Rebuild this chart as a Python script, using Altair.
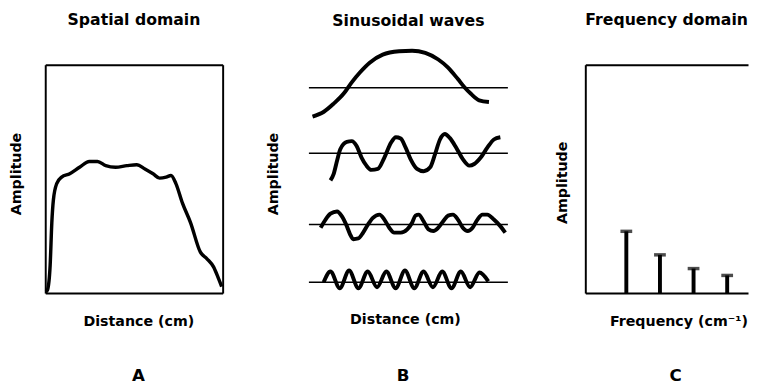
import altair as alt
import pandas as pd

FONT = "DejaVu Sans"

# ---------------- Panel A: spatial domain signal ----------------
a_dist = [0.5, 2.3, 5.0, 6.7, 8.3, 11.7, 16.7, 25.0, 35.0, 45.0, 53.3, 61.7, 71.7, 83.3,
          93.3, 101.7, 110.0, 116.7, 123.3, 128.3, 133.3, 140.0, 148.3, 158.3, 165.0,
          171.7, 176.7, 180.0]
a_amp = [1.0, 3.3, 28.3, 71.7, 95.0, 111.7, 118.3, 121.7, 128.3, 134.3, 134.3, 130.0,
         128.3, 130.0, 131.0, 126.7, 121.7, 117.3, 118.3, 120.0, 111.7, 91.7, 71.7,
         41.7, 35.0, 26.7, 15.0, 6.7]

# ---------------- Panel B: sinusoidal components ----------------
b_levels = [209.5, 142.7, 70.0, 11.0]
b_start = [0.0, 0.0, 0.0, 0.0]
b_end = [203.0, 203.0, 203.0, 203.0]

w1_x = [3.7, 15.3, 25.3, 35.3, 43.7, 52.0, 62.0, 75.3, 92.0, 105.3, 118.7, 132.0, 142.0,
        152.0, 158.7, 165.3, 173.7, 183.7]
w1_y = [180.0, 185.0, 193.3, 203.3, 215.0, 225.0, 235.0, 243.3, 246.7, 247.3, 245.0,
        238.3, 230.0, 218.3, 210.0, 203.3, 196.7, 195.0]

w2_x = [22.0, 25.3, 28.7, 32.0, 38.7, 43.7, 48.7, 53.7, 58.7, 63.7, 70.3, 77.0, 83.7,
        88.7, 93.7, 98.7, 103.7, 110.3, 117.0, 123.7, 128.7, 133.7, 138.7, 143.7, 150.3,
        157.0, 163.7, 168.7, 175.3, 182.0, 188.7, 195.3]
w2_y = [115.0, 121.7, 135.0, 146.7, 154.3, 155.0, 150.0, 138.3, 130.0, 125.7, 126.7,
        138.3, 153.3, 159.0, 157.7, 148.3, 136.7, 126.7, 124.3, 128.3, 141.7, 156.7,
        162.3, 158.3, 148.3, 136.7, 130.0, 131.7, 138.3, 148.3, 156.7, 159.0]

w3_x = [12.0, 17.0, 22.0, 28.7, 33.7, 38.7, 42.0, 45.3, 50.3, 55.3, 60.3, 65.3, 72.0,
        77.0, 82.0, 87.0, 93.7, 100.3, 105.3, 108.7, 112.0, 117.0, 122.0, 127.0, 132.0,
        137.0, 142.0, 147.0, 152.0, 157.0, 162.0, 167.0, 172.0, 177.0, 182.0, 188.7,
        195.3, 200.3]
w3_y = [66.7, 75.0, 81.0, 83.3, 78.3, 68.3, 60.0, 55.0, 55.7, 61.7, 70.0, 76.7, 80.0,
        75.0, 66.7, 61.7, 61.7, 65.0, 71.7, 79.0, 80.0, 73.3, 65.0, 63.3, 66.7, 73.3,
        79.0, 80.0, 75.0, 66.7, 63.3, 66.7, 75.0, 80.0, 80.0, 75.0, 68.3, 61.7]

w4_x = [15.0, 22.0, 31.5, 41.0, 50.5, 60.0, 69.5, 79.0, 88.5, 98.0, 107.5, 117.0, 126.5,
        136.0, 145.5, 155.0, 164.5, 174.0, 183.0]
w4_y = [11.0, 22.0, 5.0, 23.0, 5.0, 22.0, 6.0, 22.0, 5.0, 23.0, 5.0, 22.0, 6.0, 22.0,
        5.0, 22.0, 6.0, 21.0, 12.0]

# ---------------- Panel C: frequency domain ----------------
c_freq = [1, 2, 3, 4]
c_amp = [63.0, 39.0, 25.0, 18.0]

H = 233


def ttl(text, offset=37):
    return alt.TitleParams(text=text, font=FONT, fontSize=16, fontWeight="bold",
                           color="black", offset=offset, anchor="middle")


def axis(title, pad, domain=False, grid_values=None, **extra):
    kw = dict(title=title, titlePadding=pad, labels=False, ticks=False,
              titleFont=FONT, titleFontSize=14.5, titleFontWeight="bold",
              titleColor="black", domain=domain, domainColor="black",
              domainWidth=2)
    if grid_values is not None:
        kw.update(grid=True, values=grid_values, gridColor="black", gridWidth=2,
                  gridOpacity=1)
    else:
        kw.update(grid=False, values=[])
    kw.update(extra)
    return alt.Axis(**kw)


def letter(ch, xpos):
    return alt.Chart(pd.DataFrame({"lab": [ch]})).mark_text(
        font=FONT, fontSize=17, fontWeight="bold", color="black"
    ).encode(text="lab:N", x=alt.value(xpos), y=alt.value(318))


# Panel A
df_a = pd.DataFrame({"dist": a_dist, "amp": a_amp})
line_a = alt.Chart(df_a).mark_line(color="black", strokeWidth=3.5,
                                   interpolate="monotone").encode(
    x=alt.X("dist:Q", scale=alt.Scale(domain=[0, 181], nice=False, zero=False),
            axis=axis("Distance (cm)", 22, domain=True, grid_values=[181], titleX=95)),
    y=alt.Y("amp:Q", scale=alt.Scale(domain=[0, H], nice=False),
            axis=axis("Amplitude", 22, domain=True, grid_values=[H], titleY=111)),
)
chart_a = alt.layer(line_a, letter("A", 95)).properties(
    width=181, height=H, title=ttl("Spatial domain"))

# Panel B
rows = []
for k, (xs, ys) in enumerate([(w1_x, w1_y), (w2_x, w2_y), (w3_x, w3_y), (w4_x, w4_y)]):
    for xv, yv in zip(xs, ys):
        rows.append({"wave": k, "dist": xv, "amp": yv})
df_b = pd.DataFrame(rows)
df_base = pd.DataFrame({"level": b_levels, "x0": b_start, "x1": b_end})

xb = alt.Scale(domain=[0, 203], nice=False, zero=False)
yb = alt.Scale(domain=[0, H], nice=False)
base_b = alt.Chart(df_base).mark_rule(color="black", strokeWidth=1.6).encode(
    x=alt.X("x0:Q", scale=xb, axis=axis("Distance (cm)", 20, titleX=98)),
    x2="x1:Q",
    y=alt.Y("level:Q", scale=yb, axis=axis("Amplitude", 29, titleY=111)),
)
waves_b = alt.Chart(df_b).mark_line(color="black", strokeWidth=4,
                                    interpolate="monotone").encode(
    x=alt.X("dist:Q", scale=xb),
    y=alt.Y("amp:Q", scale=yb),
    detail="wave:N",
)
chart_b = alt.layer(base_b, waves_b, letter("B", 96)).properties(
    width=203, height=H, title=ttl("Sinusoidal waves", offset=14))

# Panel C
df_c = pd.DataFrame({"freq": c_freq, "amp": c_amp})
xc = alt.Scale(domain=[-0.22, 4.62], nice=False, zero=False)
yc = alt.Scale(domain=[0, H], nice=False)
stems = alt.Chart(df_c).mark_rule(color="black", strokeWidth=4).encode(
    x=alt.X("freq:Q", scale=xc,
            axis=axis("Frequency (cm\u207b\u00b9)", 22, domain=True, titleX=95)),
    y=alt.Y("amp:Q", scale=yc,
            axis=axis("Amplitude", 16, domain=True, grid_values=[H], titleY=120)),
    y2=alt.datum(0),
)
caps = alt.Chart(df_c).mark_tick(color="black", orient="horizontal", size=12,
                                 thickness=3.5).encode(
    x=alt.X("freq:Q", scale=xc),
    y=alt.Y("amp:Q", scale=yc),
)
chart_c = alt.layer(stems, caps, letter("C", 92)).properties(
    width=166, height=H, title=ttl("Frequency domain"))

chart = alt.hconcat(
    alt.hconcat(chart_a, chart_b, spacing=38), chart_c, spacing=42
).properties(
    padding={"left": 1, "top": 1, "right": 0, "bottom": 0},
    background="white",
).configure_view(stroke=None)

chart.save("out.html", embed_options={"renderer": "svg", "actions": False})
